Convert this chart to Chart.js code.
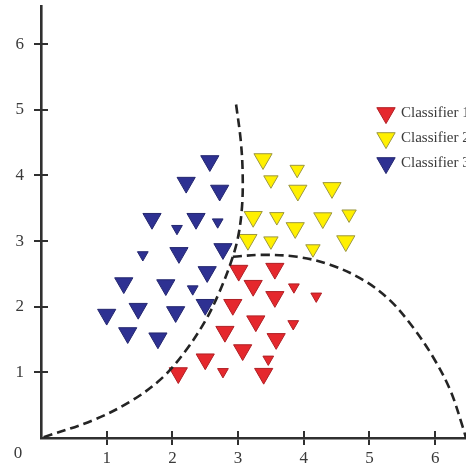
<!DOCTYPE html>
<html><head><meta charset="utf-8">
<script src="https://cdn.jsdelivr.net/npm/chart.js@4/dist/chart.umd.min.js"></script>
<style>html,body{margin:0;padding:0;background:#fff;}canvas{display:block;}</style>
</head><body>
<canvas id="c" width="466" height="468"></canvas>
<script>
// ---------- data ----------
const seriesNames = ['Classifier 1', 'Classifier 2', 'Classifier 3'];

const redX    = [3.01, 3.56, 3.23, 3.56, 3.85, 4.19, 2.92, 3.27, 3.84, 2.80, 3.58, 3.07, 3.46, 2.50, 2.77, 3.39, 2.09];
const redY    = [2.55, 2.58, 2.32, 2.15, 2.30, 2.16, 2.03, 1.78, 1.74, 1.62, 1.51, 1.34, 1.20, 1.20, 1.01, 0.98, 0.99];
const redSize = ['L', 'L', 'L', 'L', 'S', 'S', 'L', 'L', 'S', 'L', 'L', 'L', 'S', 'L', 'S', 'L', 'L'];

const yellowX    = [3.38, 3.90, 3.50, 3.91, 4.43, 3.23, 3.59, 4.29, 4.69, 3.87, 3.15, 3.50, 4.14, 4.64];
const yellowY    = [4.25, 4.09, 3.93, 3.77, 3.81, 3.37, 3.37, 3.35, 3.41, 3.20, 3.02, 3.00, 2.88, 3.00];
const yellowSize = ['L', 'M', 'M', 'L', 'L', 'L', 'M', 'L', 'M', 'L', 'L', 'M', 'M', 'L'];

const blueX    = [2.57, 2.21, 2.72, 1.69, 2.36, 2.07, 2.69, 1.55, 2.10, 2.77, 2.53, 1.26, 1.90, 2.31, 1.48, 2.05, 2.50, 1.00, 1.32, 1.78];
const blueY    = [4.22, 3.89, 3.77, 3.34, 3.34, 3.19, 3.29, 2.79, 2.82, 2.88, 2.53, 2.36, 2.33, 2.27, 1.97, 1.92, 2.03, 1.88, 1.60, 1.52];
const blueSize = ['L', 'L', 'L', 'L', 'L', 'S', 'S', 'S', 'L', 'L', 'L', 'L', 'L', 'S', 'L', 'L', 'L', 'L', 'L', 'L'];

const boundary1X = [2.97, 3.04, 3.07, 3.06, 3.00, 2.89, 2.71, 2.51, 2.21, 1.86, 1.40, 0.79, 0.00];
const boundary1Y = [5.08, 4.54, 4.04, 3.52, 3.06, 2.67, 2.21, 1.80, 1.34, 0.93, 0.58, 0.27, 0.00];

const boundary2X = [2.92, 3.38, 3.90, 4.40, 4.90, 5.31, 5.66, 5.97, 6.23, 6.42, 6.47];
const boundary2Y = [2.76, 2.79, 2.76, 2.64, 2.41, 2.10, 1.69, 1.23, 0.73, 0.17, 0.00];

const xTickValues = [1, 2, 3, 4, 5, 6];
const yTickValues = [1, 2, 3, 4, 5, 6];
const originLabel = '0';

// ---------- styling ----------
const radiusFor = { L: 10.5, M: 8.3, S: 6.2 };
const zip = (xs, ys) => xs.map((x, i) => ({ x: x, y: ys[i] }));
const serif = "'Liberation Serif', 'Times New Roman', serif";
const labelColor = '#3a3a3a';
const axisColor = '#303030';

function pointSet(label, xs, ys, sizes, fill, border) {
  return {
    type: 'scatter', label: label, data: zip(xs, ys), order: 1,
    pointStyle: 'triangle', pointRotation: 180,
    pointRadius: sizes.map(s => radiusFor[s]), pointHoverRadius: sizes.map(s => radiusFor[s]),
    backgroundColor: fill, borderColor: border, borderWidth: 1
  };
}
function curveSet(xs, ys) {
  return {
    type: 'line', data: zip(xs, ys), order: 0, showLine: true,
    borderColor: '#242424', borderWidth: 2.6, borderDash: [9, 5],
    pointRadius: 0, tension: 0.35, fill: false
  };
}

const decor = {
  id: 'decor',
  afterLayout(chart) {
    const lg = chart.legend;
    if (!lg) return;
    const L = 368.5, T = 95.5;
    const w = lg.width, h = lg.height;
    lg.left = L; lg.right = L + w; lg.top = T; lg.bottom = T + h;
  },
  afterDraw(chart) {
    const ctx = chart.ctx, xs = chart.scales.x, ys = chart.scales.y;
    const a = chart.chartArea;
    ctx.save();
    ctx.strokeStyle = axisColor;
    ctx.lineWidth = 2;
    xs.ticks.forEach(t => {
      const p = Math.round(xs.getPixelForValue(t.value));
      ctx.beginPath(); ctx.moveTo(p, a.bottom); ctx.lineTo(p, a.bottom - 7); ctx.stroke();
    });
    ys.ticks.forEach(t => {
      const p = Math.round(ys.getPixelForValue(t.value));
      ctx.beginPath(); ctx.moveTo(a.left, p); ctx.lineTo(a.left + 7, p); ctx.stroke();
    });
    ctx.fillStyle = labelColor;
    ctx.font = '17px ' + serif;
    ctx.textAlign = 'center';
    ctx.textBaseline = 'middle';
    ctx.fillText(originLabel, a.left - 23, a.bottom + 16);
    ctx.restore();
  }
};

new Chart(document.getElementById('c'), {
  type: 'scatter',
  data: {
    datasets: [
      curveSet(boundary1X, boundary1Y),
      curveSet(boundary2X, boundary2Y),
      pointSet(seriesNames[0], redX, redY, redSize, '#E5282D', '#B01F24'),
      pointSet(seriesNames[1], yellowX, yellowY, yellowSize, '#FFF000', '#9C9740'),
      pointSet(seriesNames[2], blueX, blueY, blueSize, '#2E3192', '#24276F')
    ]
  },
  options: {
    responsive: false,
    animation: false,
    events: [],
    layout: { autoPadding: false, padding: { top: 6, right: 0, left: 0, bottom: 0 } },
    plugins: {
      tooltip: { enabled: false },
      legend: {
        position: 'chartArea',
        align: 'start',
        labels: {
          usePointStyle: true,
          padding: 10,
          color: labelColor,
          font: { family: serif, size: 15 },
          filter: item => !!item.text
        }
      }
    },
    scales: {
      x: {
        type: 'linear', min: 0, max: 6.47,
        afterBuildTicks: s => { s.ticks = xTickValues.map(v => ({ value: v })); },
        afterFit: s => { s.height = 30; s.paddingLeft = 0; s.paddingRight = 0; },
        ticks: { color: labelColor, font: { family: serif, size: 17 }, padding: 3, maxRotation: 0 },
        grid: { drawOnChartArea: false, drawTicks: true, tickLength: 7, color: axisColor, lineWidth: 2 },
        border: { display: true, color: axisColor, width: 2.6 }
      },
      y: {
        type: 'linear', min: 0, max: 6.58,
        afterBuildTicks: s => { s.ticks = yTickValues.map(v => ({ value: v })); },
        afterFit: s => { s.width = 41; s.paddingTop = 0; s.paddingBottom = 0; },
        ticks: { color: labelColor, font: { family: serif, size: 17 }, padding: 10 },
        grid: { drawOnChartArea: false, drawTicks: true, tickLength: 7, color: axisColor, lineWidth: 2 },
        border: { display: true, color: axisColor, width: 2.6 }
      }
    }
  },
  plugins: [decor]
});
</script>
</body></html>
